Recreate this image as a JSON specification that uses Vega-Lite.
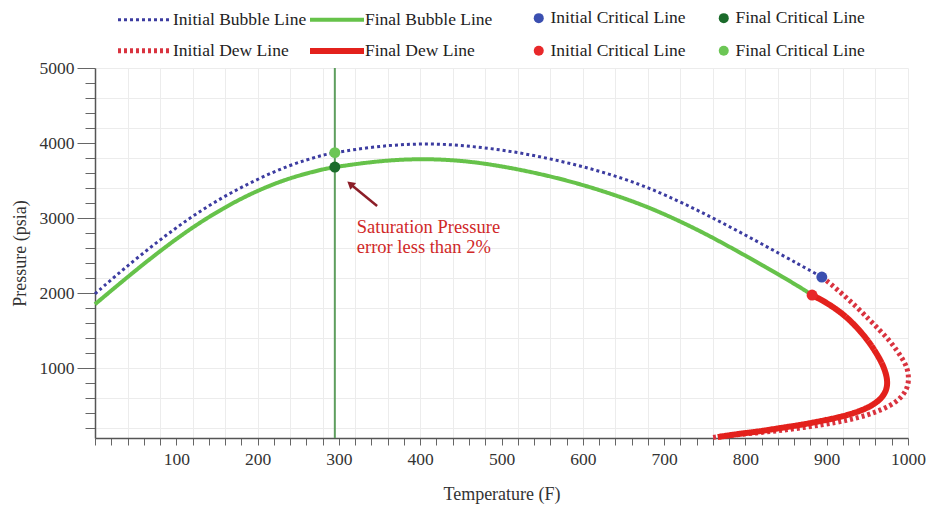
{
  "$schema": "https://vega.github.io/schema/vega-lite/v6.json",
  "width": 813,
  "height": 370,
  "autosize": {"type": "none"},
  "padding": {"left": 95, "top": 68, "right": 19, "bottom": 68},
  "background": "white",
  "config": {"view": {"stroke": null}, "font": "Liberation Serif"},
  "datasets": {
    "curves": [
      {"series": "Initial Bubble Line", "i": 0, "T": 0, "P": 1990},
      {"series": "Initial Bubble Line", "i": 1, "T": 34, "P": 2310},
      {"series": "Initial Bubble Line", "i": 2, "T": 75, "P": 2670},
      {"series": "Initial Bubble Line", "i": 3, "T": 116, "P": 3000},
      {"series": "Initial Bubble Line", "i": 4, "T": 157, "P": 3280},
      {"series": "Initial Bubble Line", "i": 5, "T": 198, "P": 3510},
      {"series": "Initial Bubble Line", "i": 6, "T": 239, "P": 3707},
      {"series": "Initial Bubble Line", "i": 7, "T": 280, "P": 3840},
      {"series": "Initial Bubble Line", "i": 8, "T": 295, "P": 3872},
      {"series": "Initial Bubble Line", "i": 9, "T": 342, "P": 3950},
      {"series": "Initial Bubble Line", "i": 10, "T": 383, "P": 3985},
      {"series": "Initial Bubble Line", "i": 11, "T": 424, "P": 3990},
      {"series": "Initial Bubble Line", "i": 12, "T": 465, "P": 3955},
      {"series": "Initial Bubble Line", "i": 13, "T": 506, "P": 3900},
      {"series": "Initial Bubble Line", "i": 14, "T": 547, "P": 3820},
      {"series": "Initial Bubble Line", "i": 15, "T": 588, "P": 3720},
      {"series": "Initial Bubble Line", "i": 16, "T": 629, "P": 3600},
      {"series": "Initial Bubble Line", "i": 17, "T": 670, "P": 3450},
      {"series": "Initial Bubble Line", "i": 18, "T": 703, "P": 3300},
      {"series": "Initial Bubble Line", "i": 19, "T": 744, "P": 3090},
      {"series": "Initial Bubble Line", "i": 20, "T": 785, "P": 2860},
      {"series": "Initial Bubble Line", "i": 21, "T": 826, "P": 2620},
      {"series": "Initial Bubble Line", "i": 22, "T": 867, "P": 2375},
      {"series": "Initial Bubble Line", "i": 23, "T": 894, "P": 2213},

      {"series": "Initial Dew Line", "i": 0, "T": 894, "P": 2213},
      {"series": "Initial Dew Line", "i": 1, "T": 904, "P": 2130},
      {"series": "Initial Dew Line", "i": 2, "T": 920, "P": 1980},
      {"series": "Initial Dew Line", "i": 3, "T": 937, "P": 1813},
      {"series": "Initial Dew Line", "i": 4, "T": 952, "P": 1650},
      {"series": "Initial Dew Line", "i": 5, "T": 965, "P": 1507},
      {"series": "Initial Dew Line", "i": 6, "T": 977, "P": 1370},
      {"series": "Initial Dew Line", "i": 7, "T": 986, "P": 1240},
      {"series": "Initial Dew Line", "i": 8, "T": 994, "P": 1110},
      {"series": "Initial Dew Line", "i": 9, "T": 999, "P": 1000},
      {"series": "Initial Dew Line", "i": 10, "T": 1001, "P": 880},
      {"series": "Initial Dew Line", "i": 11, "T": 1000, "P": 760},
      {"series": "Initial Dew Line", "i": 12, "T": 995, "P": 650},
      {"series": "Initial Dew Line", "i": 13, "T": 985, "P": 540},
      {"series": "Initial Dew Line", "i": 14, "T": 969, "P": 450},
      {"series": "Initial Dew Line", "i": 15, "T": 950, "P": 370},
      {"series": "Initial Dew Line", "i": 16, "T": 925, "P": 300},
      {"series": "Initial Dew Line", "i": 17, "T": 896, "P": 245},
      {"series": "Initial Dew Line", "i": 18, "T": 855, "P": 180},
      {"series": "Initial Dew Line", "i": 19, "T": 814, "P": 135},
      {"series": "Initial Dew Line", "i": 20, "T": 768, "P": 90},
      {"series": "Initial Dew Line", "i": 21, "T": 760, "P": 75},

      {"series": "Final Bubble Line", "i": 0, "T": 0, "P": 1850},
      {"series": "Final Bubble Line", "i": 1, "T": 34, "P": 2160},
      {"series": "Final Bubble Line", "i": 2, "T": 75, "P": 2520},
      {"series": "Final Bubble Line", "i": 3, "T": 116, "P": 2850},
      {"series": "Final Bubble Line", "i": 4, "T": 157, "P": 3130},
      {"series": "Final Bubble Line", "i": 5, "T": 198, "P": 3360},
      {"series": "Final Bubble Line", "i": 6, "T": 239, "P": 3535},
      {"series": "Final Bubble Line", "i": 7, "T": 280, "P": 3650},
      {"series": "Final Bubble Line", "i": 8, "T": 295, "P": 3680},
      {"series": "Final Bubble Line", "i": 9, "T": 342, "P": 3752},
      {"series": "Final Bubble Line", "i": 10, "T": 383, "P": 3785},
      {"series": "Final Bubble Line", "i": 11, "T": 424, "P": 3785},
      {"series": "Final Bubble Line", "i": 12, "T": 465, "P": 3750},
      {"series": "Final Bubble Line", "i": 13, "T": 506, "P": 3680},
      {"series": "Final Bubble Line", "i": 14, "T": 547, "P": 3590},
      {"series": "Final Bubble Line", "i": 15, "T": 588, "P": 3480},
      {"series": "Final Bubble Line", "i": 16, "T": 629, "P": 3345},
      {"series": "Final Bubble Line", "i": 17, "T": 670, "P": 3190},
      {"series": "Final Bubble Line", "i": 18, "T": 703, "P": 3040},
      {"series": "Final Bubble Line", "i": 19, "T": 744, "P": 2830},
      {"series": "Final Bubble Line", "i": 20, "T": 785, "P": 2590},
      {"series": "Final Bubble Line", "i": 21, "T": 826, "P": 2340},
      {"series": "Final Bubble Line", "i": 22, "T": 867, "P": 2080},
      {"series": "Final Bubble Line", "i": 23, "T": 882, "P": 1973},

      {"series": "Final Dew Line", "i": 0, "T": 882, "P": 1973},
      {"series": "Final Dew Line", "i": 1, "T": 895, "P": 1900},
      {"series": "Final Dew Line", "i": 2, "T": 908, "P": 1813},
      {"series": "Final Dew Line", "i": 3, "T": 921, "P": 1710},
      {"series": "Final Dew Line", "i": 4, "T": 932, "P": 1600},
      {"series": "Final Dew Line", "i": 5, "T": 943, "P": 1470},
      {"series": "Final Dew Line", "i": 6, "T": 953, "P": 1333},
      {"series": "Final Dew Line", "i": 7, "T": 961, "P": 1200},
      {"series": "Final Dew Line", "i": 8, "T": 968, "P": 1067},
      {"series": "Final Dew Line", "i": 9, "T": 973, "P": 930},
      {"series": "Final Dew Line", "i": 10, "T": 975, "P": 800},
      {"series": "Final Dew Line", "i": 11, "T": 973, "P": 690},
      {"series": "Final Dew Line", "i": 12, "T": 967, "P": 590},
      {"series": "Final Dew Line", "i": 13, "T": 956, "P": 500},
      {"series": "Final Dew Line", "i": 14, "T": 940, "P": 420},
      {"series": "Final Dew Line", "i": 15, "T": 918, "P": 350},
      {"series": "Final Dew Line", "i": 16, "T": 896, "P": 300},
      {"series": "Final Dew Line", "i": 17, "T": 870, "P": 245},
      {"series": "Final Dew Line", "i": 18, "T": 840, "P": 195},
      {"series": "Final Dew Line", "i": 19, "T": 814, "P": 150},
      {"series": "Final Dew Line", "i": 20, "T": 790, "P": 120},
      {"series": "Final Dew Line", "i": 21, "T": 766, "P": 80}
    ],
    "critical": [
      {"point": "Initial Critical Line 1", "T": 894, "P": 2213},
      {"point": "Final Critical Line 1", "T": 295, "P": 3680},
      {"point": "Initial Critical Line 2", "T": 882, "P": 1973},
      {"point": "Final Critical Line 2", "T": 295, "P": 3872}
    ],
    "arrow": [
      {"T": 347, "P": 3160, "T2": 314, "P2": 3454}
    ],
    "arrowHead": [
      {"T": 314, "P": 3454}
    ],
    "note": [
      {"line": "Saturation Pressure", "T": 322, "P": 2800},
      {"line": "error less than 2%", "T": 322, "P": 2533}
    ]
  },
  "layer": [
    {
      "data": {"values": [{"T": 295}]},
      "mark": {"type": "rule", "color": "#5e9e5e", "strokeWidth": 2},
      "encoding": {
        "x": {"field": "T", "type": "quantitative"}
      }
    },
    {
      "data": {"name": "curves"},
      "mark": {"type": "line", "strokeCap": "butt", "strokeJoin": "round", "interpolate": "basis"},
      "encoding": {
        "x": {
          "field": "T",
          "type": "quantitative",
          "scale": {"domain": [0, 1000], "nice": false, "zero": false},
          "axis": {
            "title": "Temperature (F)",
            "values": [0, 20, 40, 60, 80, 100, 120, 140, 160, 180, 200, 220, 240, 260, 280, 300, 320, 340, 360, 380, 400, 420, 440, 460, 480, 500, 520, 540, 560, 580, 600, 620, 640, 660, 680, 700, 720, 740, 760, 780, 800, 820, 840, 860, 880, 900, 920, 940, 960, 980, 1000],
            "tickCount": 200,
            "format": "d",
            "labelExpr": "datum.value % 100 === 0 && datum.value > 0 ? datum.label : ''",
            "labelOverlap": false,
            "labelFlush": false,
            "labelBound": false,
            "tickSize": 7,
            "tickColor": "#666",
            "tickWidth": 1,
            "domainColor": "#555",
            "domainWidth": 1.5,
            "labelFont": "Liberation Serif",
            "labelFontSize": 17.5,
            "labelColor": "#333",
            "labelPadding": 5,
            "titleFont": "Liberation Serif",
            "titleFontSize": 18,
            "titleFontWeight": "normal",
            "titleColor": "#333",
            "titlePadding": 18,
            "grid": true,
            "gridColor": "#ececec",
            "gridOpacity": {"condition": {"test": "datum.value % 40 === 0", "value": 1}, "value": 0}
          }
        },
        "y": {
          "field": "P",
          "type": "quantitative",
          "scale": {"domain": [67, 5000], "nice": false, "zero": false},
          "axis": {
            "title": "Pressure (psia)",
            "values": [200, 400, 600, 800, 1000, 1200, 1400, 1600, 1800, 2000, 2200, 2400, 2600, 2800, 3000, 3200, 3400, 3600, 3800, 4000, 4200, 4400, 4600, 4800, 5000],
            "tickCount": 200,
            "format": "d",
            "labelExpr": "datum.value % 1000 === 0 ? datum.label : ''",
            "labelOverlap": false,
            "labelFlush": false,
            "labelBound": false,
            "tickSize": {"condition": {"test": "datum.value % 1000 === 0", "value": 18}, "value": 10},
            "tickColor": "#666",
            "tickWidth": 1,
            "domainColor": "#555",
            "domainWidth": 1.5,
            "labelFont": "Liberation Serif",
            "labelFontSize": 17.5,
            "labelColor": "#333",
            "labelPadding": 3,
            "titleFont": "Liberation Serif",
            "titleFontSize": 18,
            "titleFontWeight": "normal",
            "titleColor": "#333",
            "titlePadding": 10,
            "grid": true,
            "gridColor": "#ececec",
            "gridOpacity": {"condition": {"test": "datum.value % 400 === 200", "value": 1}, "value": 0}
          }
        },
        "detail": {"field": "series", "type": "nominal"},
        "order": {"field": "i", "type": "quantitative"},
        "stroke": {
          "field": "series",
          "type": "nominal",
          "scale": {
            "domain": ["Initial Bubble Line", "Final Bubble Line", "Initial Dew Line", "Final Dew Line"],
            "range": ["#3c3ca0", "#66c24a", "#d9333f", "#e3211c"]
          },
          "legend": {
            "title": null,
            "orient": "none",
            "legendX": 20,
            "legendY": -59,
            "direction": "horizontal",
            "columns": 2,
            "gridAlign": "all",
            "columnPadding": -34,
            "rowPadding": 9,
            "padding": 0,
            "symbolType": "M-1,0H8",
            "symbolSize": 144,
            "labelOffset": 40,
            "labelFont": "Liberation Serif",
            "labelFontSize": 17.5,
            "labelColor": "#222"
          }
        },
        "strokeDash": {
          "field": "series",
          "type": "nominal",
          "scale": {
            "domain": ["Initial Bubble Line", "Final Bubble Line", "Initial Dew Line", "Final Dew Line"],
            "range": [[3, 3], [1, 0], [3, 3], [1, 0]]
          }
        },
        "strokeWidth": {
          "field": "series",
          "type": "nominal",
          "scale": {
            "domain": ["Initial Bubble Line", "Final Bubble Line", "Initial Dew Line", "Final Dew Line"],
            "range": [3, 6, 2.5, 4.5]
          }
        }
      }
    },
    {
      "data": {"name": "critical"},
      "mark": {"type": "point", "filled": true, "opacity": 1, "size": 120, "strokeWidth": 0},
      "encoding": {
        "x": {"field": "T", "type": "quantitative"},
        "y": {"field": "P", "type": "quantitative"},
        "fill": {
          "field": "point",
          "type": "nominal",
          "scale": {
            "domain": ["Initial Critical Line 1", "Final Critical Line 1", "Initial Critical Line 2", "Final Critical Line 2"],
            "range": ["#3b4fb0", "#1b6b2b", "#e8282a", "#6cc655"]
          },
          "legend": {
            "title": null,
            "orient": "none",
            "legendX": 435,
            "legendY": -59,
            "direction": "horizontal",
            "columns": 2,
            "gridAlign": "all",
            "columnPadding": 29,
            "rowPadding": 14,
            "padding": 0,
            "symbolType": "circle",
            "symbolSize": 100,
            "symbolStrokeWidth": 0,
            "labelOffset": 3,
            "labelExpr": "slice(datum.label, 0, -2)",
            "labelFont": "Liberation Serif",
            "labelFontSize": 17.5,
            "labelColor": "#222"
          }
        }
      }
    },
    {
      "data": {"name": "arrow"},
      "mark": {"type": "rule", "color": "#8c1e28", "strokeWidth": 2.5},
      "encoding": {
        "x": {"field": "T", "type": "quantitative"},
        "y": {"field": "P", "type": "quantitative"},
        "x2": {"field": "T2"},
        "y2": {"field": "P2"}
      }
    },
    {
      "data": {"name": "arrowHead"},
      "mark": {"type": "point", "shape": "triangle-up", "filled": true, "color": "#8c1e28", "size": 80, "angle": 310, "opacity": 1},
      "encoding": {
        "x": {"field": "T", "type": "quantitative"},
        "y": {"field": "P", "type": "quantitative"}
      }
    },
    {
      "data": {"name": "note"},
      "mark": {"type": "text", "align": "left", "baseline": "alphabetic", "font": "Liberation Serif", "fontSize": 18.5, "color": "#d02828"},
      "encoding": {
        "x": {"field": "T", "type": "quantitative"},
        "y": {"field": "P", "type": "quantitative"},
        "text": {"field": "line", "type": "nominal"}
      }
    }
  ]
}
